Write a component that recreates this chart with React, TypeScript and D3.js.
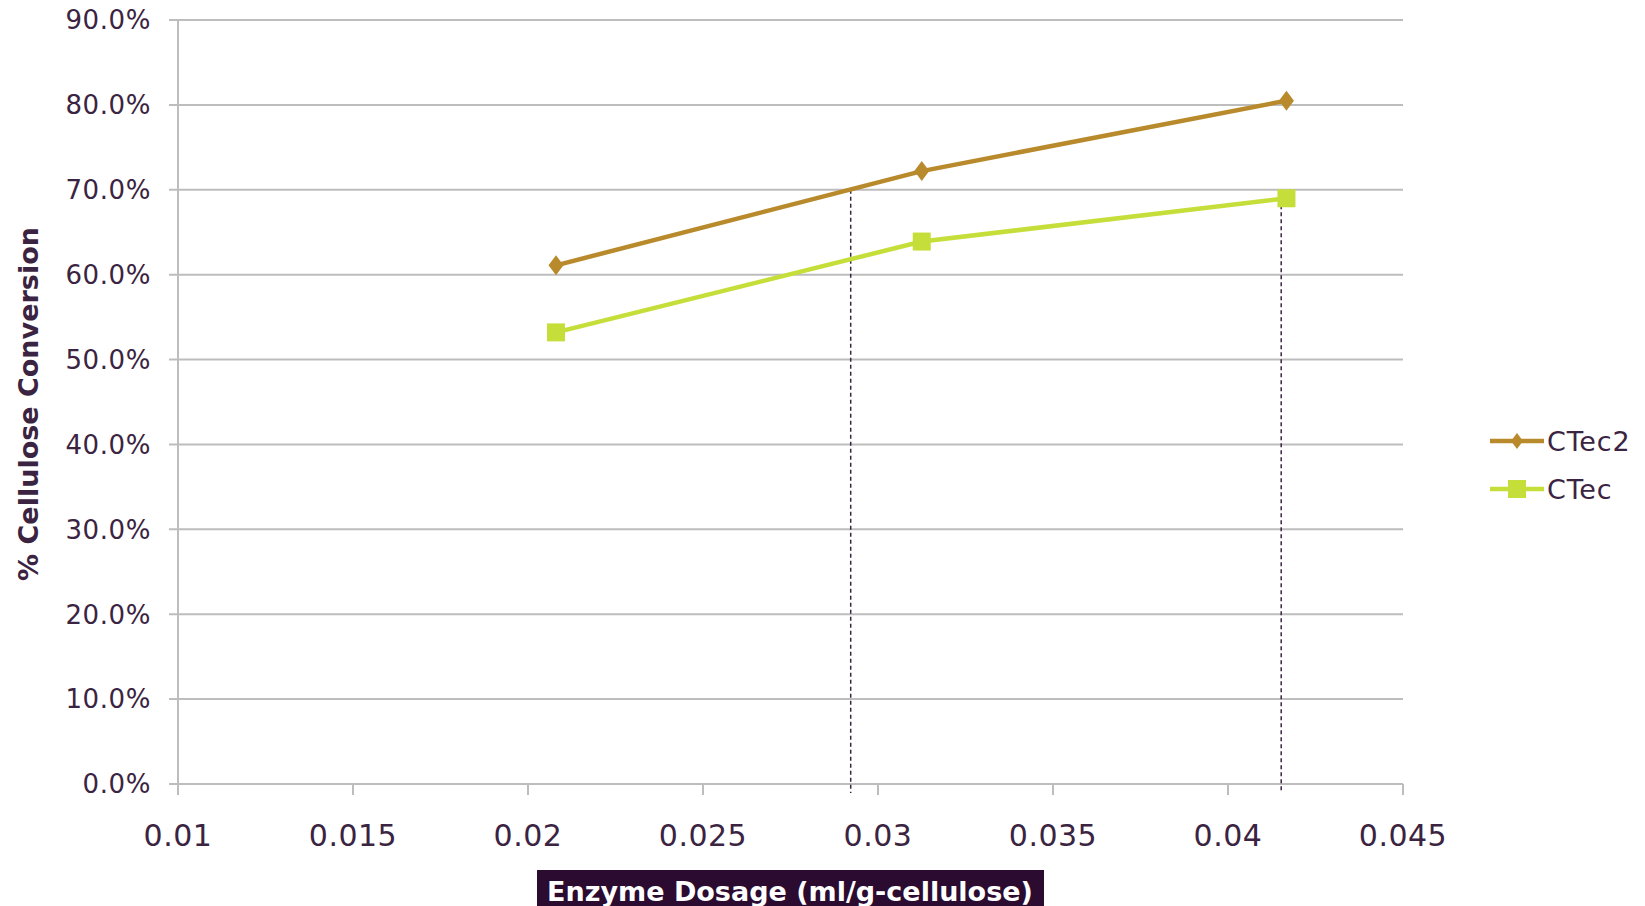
import React from "react";
import * as d3 from "d3";

const dosage = [0.0208, 0.03125, 0.04167];
const ctec2 = [0.611, 0.722, 0.805];
const ctec = [0.532, 0.639, 0.69];
const yTicks = [0, 0.1, 0.2, 0.3, 0.4, 0.5, 0.6, 0.7, 0.8, 0.9];
const xTicks = [0.01, 0.015, 0.02, 0.025, 0.03, 0.035, 0.04, 0.045];
const dropX = [0.02922, 0.04152];
const dropY = [0.70, 0.69];
const seriesNames = ["CTec2", "CTec"];

const W = 1645, H = 906;
const TXT = "#3b2441";
const C2 = "#b88a2c";
const C1 = "#c6de3a";

export default function App() {
  const x = d3.scaleLinear().domain([0.01, 0.045]).range([178, 1403]);
  const y = d3.scaleLinear().domain([0, 0.9]).range([784, 20]);
  const line = d3.line<number>().x((_, i) => x(dosage[i])).y((d) => y(d));
  const diamond = (cx: number, cy: number, r: number) =>
    `M${cx},${cy - r}L${cx + r * 0.75},${cy}L${cx},${cy + r}L${cx - r * 0.75},${cy}Z`;
  const fmtY = d3.format(".1%");
  const fmtX = (v: number) => String(+v.toFixed(3));
  return (
    <svg width={W} height={H} style={{ position: "absolute", left: 0, top: 0, background: "#fff" }}>
      {yTicks.map((t) => (
        <g key={t}>
          <line x1={169} x2={1403} y1={y(t)} y2={y(t)} stroke="#bdbdbd" strokeWidth={2} />
          <text x={151} y={y(t)} dy="0.36em" textAnchor="end" fontFamily="DejaVu Sans" fontSize={26} letterSpacing={0.6} fill={TXT}>
            {fmtY(t)}
          </text>
        </g>
      ))}
      <line x1={178} x2={178} y1={20} y2={795} stroke="#bdbdbd" strokeWidth={2} />
      {xTicks.map((t) => (
        <g key={t}>
          <line x1={x(t)} x2={x(t)} y1={784} y2={795} stroke="#bdbdbd" strokeWidth={2} />
          <text x={x(t)} y={846} textAnchor="middle" fontFamily="DejaVu Sans" fontSize={30} letterSpacing={0.5} fill={TXT}>
            {fmtX(t)}
          </text>
        </g>
      ))}
      {dropX.map((dx, i) => (
        <line key={i} x1={x(dx)} x2={x(dx)} y1={y(dropY[i])} y2={793} stroke={TXT} strokeWidth={1.5} strokeDasharray="4,3" />
      ))}
      <path d={line(ctec) || ""} fill="none" stroke={C1} strokeWidth={4.5} />
      <path d={line(ctec2) || ""} fill="none" stroke={C2} strokeWidth={4.5} />
      {ctec.map((v, i) => (
        <rect key={i} x={x(dosage[i]) - 9} y={y(v) - 9} width={18} height={18} fill={C1} />
      ))}
      {ctec2.map((v, i) => (
        <path key={i} d={diamond(x(dosage[i]), y(v), 10)} fill={C2} />
      ))}
      <text transform={`translate(38,404) rotate(-90)`} textAnchor="middle" fontFamily="DejaVu Sans" fontWeight="bold" fontSize={27} fill={TXT}>
        % Cellulose Conversion
      </text>
      <rect x={537} y={870} width={507} height={40} fill="#2b0b30" />
      <text x={790} y={901} textAnchor="middle" fontFamily="DejaVu Sans" fontWeight="bold" fontSize={27} fill="#fff">
        Enzyme Dosage (ml/g-cellulose)
      </text>
      {seriesNames.map((n, i) => {
        const ly = 441 + i * 48;
        const c = i === 0 ? C2 : C1;
        return (
          <g key={n}>
            <line x1={1490} x2={1544} y1={ly} y2={ly} stroke={c} strokeWidth={4.5} />
            {i === 0 ? (
              <path d={diamond(1517, ly, 8)} fill={c} />
            ) : (
              <rect x={1508} y={ly - 9} width={18} height={18} fill={c} />
            )}
            <text x={1547} y={ly} dy="0.36em" fontFamily="DejaVu Sans" fontSize={27} letterSpacing={0.8} fill={TXT}>
              {n}
            </text>
          </g>
        );
      })}
    </svg>
  );
}
